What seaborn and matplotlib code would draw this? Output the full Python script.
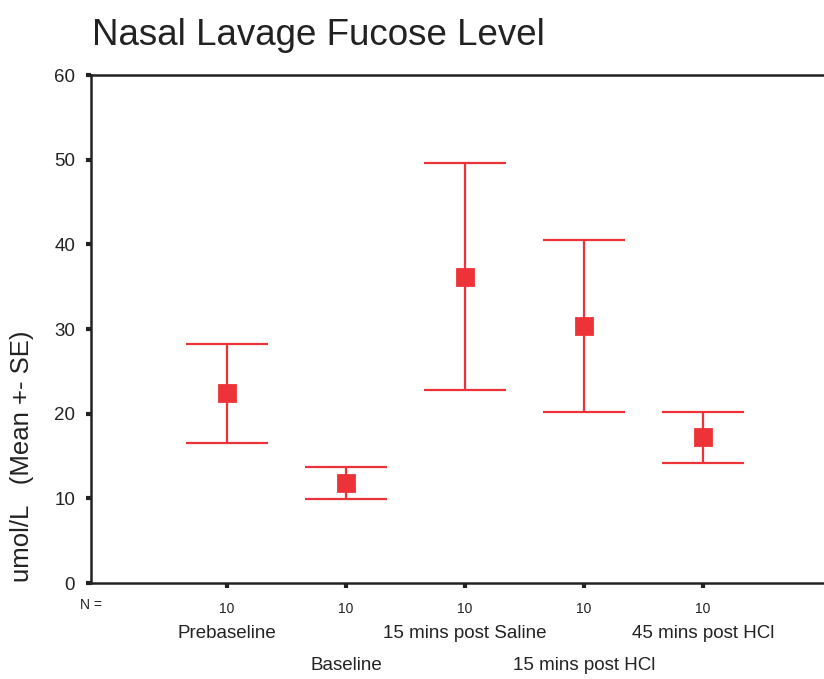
import matplotlib
matplotlib.use("Agg")
import matplotlib.pyplot as plt
import seaborn as sns
import pandas as pd

# Group means and standard errors of nasal lavage fucose (umol/L)
groups = ["Prebaseline", "Baseline", "15 mins post Saline", "15 mins post HCl", "45 mins post HCl"]
means = [22.4, 11.8, 36.2, 30.4, 17.2]
se = [5.85, 1.85, 13.4, 10.15, 3.0]
n_counts = [10, 10, 10, 10, 10]
y_ticks = [0, 10, 20, 30, 40, 50, 60]

sns.set_theme(style="white")
plt.rcParams["font.family"] = ["Liberation Sans", "DejaVu Sans"]

red = "#ee3338"
ink = "#222222"
df = pd.DataFrame({"group": groups, "mean": means})

fig = plt.figure(figsize=(8.24, 6.79), dpi=100)
ax = fig.add_axes([91 / 824, 1 - 583 / 679, 748 / 824, 508 / 679])

ax.errorbar(range(len(groups)), means, yerr=se, fmt="none", ecolor=red,
            elinewidth=1.6, capsize=29.5, capthick=1.6, zorder=2)
sns.pointplot(data=df, x="group", y="mean", order=groups, linestyle="none",
              marker="s", markersize=12, color=red, errorbar=None, ax=ax, zorder=3)

ax.set_xlim(-1.143, 5.143)
ax.set_ylim(0, 60)
ax.set_yticks(y_ticks)
ax.set_yticklabels([str(t) for t in y_ticks], fontsize=13.5, color=ink)
ax.set_xticks(range(len(groups)))
ax.set_xticklabels([str(n) for n in n_counts], fontsize=10, color=ink)
ax.set_xlabel("")
ax.set_ylabel("")
ax.tick_params(axis="both", direction="out", length=3.5, width=3, color=ink,
               bottom=True, left=True)
ax.tick_params(axis="y", pad=8)
ax.tick_params(axis="x", pad=10)
for side in ["left", "top", "bottom", "right"]:
    ax.spines[side].set_color(ink)
    ax.spines[side].set_linewidth(1.8)

# Group names in two staggered rows below the counts
for i, name in enumerate(groups):
    y = -50 / 508 if i % 2 == 0 else -83 / 508
    ax.text(i, y, name, transform=ax.get_xaxis_transform(), ha="center", va="center",
            fontsize=13.5, color=ink)

ax.text(-1.143, -22 / 508, "N =", transform=ax.get_xaxis_transform(), ha="center",
        va="center", fontsize=10, color=ink)

fig.text(22 / 824, 1 - 456 / 679, "umol/L   (Mean +- SE)", rotation=90, ha="center",
         va="center", fontsize=18.5, color=ink)
fig.text(92 / 824, 1 - 18 / 679, "Nasal Lavage Fucose Level", ha="left", va="top",
         fontsize=26.5, color=ink)

fig.savefig("out.png", dpi=100)
